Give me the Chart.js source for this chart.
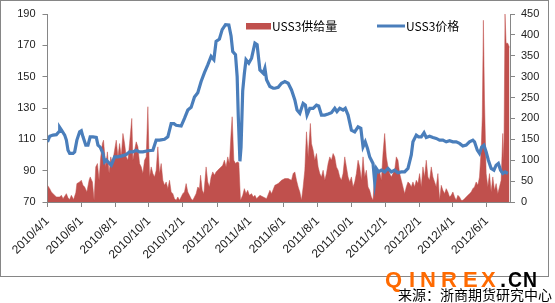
<!DOCTYPE html>
<html>
<head>
<meta charset="utf-8">
<script src="https://cdn.jsdelivr.net/npm/chart.js@4.4.0/dist/chart.umd.min.js"></script>
<style>
    html, body { margin: 0; padding: 0; background: #fff; }
    #wrap { position: relative; width: 555px; height: 303px; }
</style>
</head>
<body>
<div id="wrap"><canvas id="chart" width="555" height="303"></canvas></div>
<script>
// x values are days counted from 2010/4/1
const priceDay = [0,4,10,16,21,22,25,31,34,37,40,46,49,53,58,61,64,69,73,77,82,88,91,95,100,103,106,112,115,121,
    127,133,142,148,154,160,166,172,181,190,196,202,211,217,223,228,232,241,247,253,259,265,271,277,283,289,295,300,304,310,
    315,321,327,331,334,339,342,344,347,349,352,355,358,363,368,374,378,383,389,392,395,401,407,410,416,422,428,434,440,446,
    450,455,461,465,468,473,479,485,489,494,500,506,512,518,522,527,533,537,542,548,554,560,565,569,573,577,581,587,590,593,
    597,602,608,614,620,626,632,638,644,650,656,659,665,669,674,679,683,689,695,701,707,713,719,725,731,737,743,749,755,761,
    767,770,775,779,783,787,791,795,800,805,809,813,817,821,825,830];
const price = [108.4,112,112.7,113,115,117.6,116,112.7,109.5,103,101,101,102,109.5,114.8,115.5,111.6,106.3,106.3,111.6,
    111.6,111.2,106.3,105,101,95.6,96.7,94.5,93.5,98.8,98.8,99.3,100.3,102,102,103,102,102,102.7,103,
    109.5,109.5,110,111.6,120,120,119,118.5,123.4,128.7,130.4,137,139.8,146.9,152.6,157.5,162.9,160.8,172.5,174,
    180,183.2,183,176,166,164,150,125,96,105,141,152,160.8,158.6,161.8,171.4,170.4,154.3,152.2,155.4,
    148,143.7,142.6,142.6,143.2,145.8,146.9,145.8,141.5,135.1,128.7,126.6,133,131.9,125.5,129.8,129.8,131.9,131.3,125.5,
    125.5,126.2,127,129.8,127.7,129.8,128.7,129.8,125.5,115.9,114.8,118,117,105.2,108.4,104.2,98.8,94.6,82.8,91.4,
    89.2,90.3,89.2,91.4,89.2,90.3,88.6,89.2,89.2,91.4,100,108.4,112.7,111.6,111.6,114.2,111.2,112,111.2,110.6,
    109.5,109.5,108.4,109.1,108.4,108.4,107.4,105.7,106.3,108.4,109.5,108.4,103.1,101,105.2,106.3,102,96.7,91.4,90.3,
    93.5,94.6,90.3,88.2,89.2,88.2];

const supplyDay = [0,4,7,10,16,22,25,28,34,37,40,43,47,51,53,58,61,64,67,71,75,77,81,84,87,90,93,96,99,101,
    105,108,111,114,117,121,124,127,130,133,136,139,142,145,148,152,154,157,160,163,166,169,172,175,178,181,184,187,190,193,
    196,199,202,205,208,211,214,217,220,223,226,229,232,235,238,241,244,247,250,253,256,259,262,265,268,271,274,276,279,282,
    285,286,289,292,295,298,301,304,307,310,313,316,319,322,325,328,331,333,336,339,342,345,348,352,355,358,361,364,368,371,
    374,377,383,389,395,401,404,
    410,416,422,428,434,440,443,446,449,452,455,458,461,464,467,470,474,476,479,482,
    485,488,491,494,497,500,503,506,509,512,515,518,521,524,527,530,533,536,539,542,
    545,548,551,554,557,560,563,566,569,572,575,578,581,584,587,590,593,596,599,602,
    605,608,611,614,617,620,623,626,629,632,635,638,641,644,647,650,653,656,659,662,
    665,668,671,674,677,680,683,686,689,692,695,698,701,704,707,710,713,716,719,722,
    725,728,731,734,737,740,743,746,749,752,755,758,761,764,767,770,773,776,779,782,
    784,786,788,791,794,797,800,803,806,809,812,815,818,821,823,825,827,830,833];
const supply = [40,32,24,20,12,12,16,8,20,10,6,16,6,22,44,48,52,40,36,24,52,60,48,4,84,92,52,108,140,148,
    84,120,68,108,92,124,148,108,140,108,164,140,108,100,140,200,100,124,144,132,92,84,68,100,108,228,60,84,68,60,
    76,132,68,92,52,40,48,32,52,24,20,8,4,12,4,12,20,24,44,24,16,8,4,12,20,36,32,64,28,20,
    68,84,48,36,60,72,64,72,76,80,84,88,100,84,108,92,164,204,100,92,96,94,4,16,32,20,28,16,20,12,
    16,8,16,12,8,28,20,
    40,44,52,56,56,52,68,72,52,36,24,4,36,76,168,108,188,140,124,100,
    116,84,68,60,76,52,68,92,108,100,116,108,84,76,60,52,68,108,84,60,
    48,60,36,48,68,100,84,52,108,60,76,36,28,12,4,68,84,68,72,52,
    116,164,108,84,68,60,68,76,108,100,68,52,36,20,36,48,44,36,48,36,
    52,44,68,36,84,60,100,60,52,84,60,48,36,68,4,40,28,20,32,24,
    12,16,24,12,4,16,12,4,4,8,12,16,20,24,32,36,48,40,60,124,
    204,435,244,68,36,68,24,60,28,44,20,36,52,164,100,450,380,380,370];

const tickLabels = ['2010/4/1','2010/6/1','2010/8/1','2010/10/1','2010/12/1','2011/2/1','2011/4/1',
    '2011/6/1','2011/8/1','2011/10/1','2011/12/1','2012/2/1','2012/4/1','2012/6/1'];
const priceLabel = 'USS3价格';
const supplyLabel = 'USS3供给量';

function dayOf(label) {
    const [y, m, d] = label.split('/').map(Number);
    return (Date.UTC(y, m - 1, d) - Date.UTC(2010, 3, 1)) / 86400000;
}
const tickDays = tickLabels.map(dayOf);

const axisColor = '#868686';
const tickFont = { family: '"Liberation Sans", Arial, sans-serif', size: 11 };

const decor = {
    id: 'decor',
    beforeDraw(chart) {
        const ctx = chart.ctx;
        ctx.save();
        ctx.fillStyle = '#fff';
        ctx.fillRect(0, 0, chart.width, chart.height);
        ctx.strokeStyle = axisColor;
        ctx.lineWidth = 1;
        ctx.strokeRect(0.5, 0.5, 548, 276);
        ctx.restore();
    },
    afterDraw(chart) {
        const ctx = chart.ctx;
        ctx.save();
        // legend
        ctx.font = '12px "Noto Sans CJK SC", sans-serif';
        ctx.textBaseline = 'middle';
        ctx.fillStyle = '#C0504D';
        ctx.fillRect(246, 23, 25, 6.5);
        ctx.fillStyle = '#000';
        ctx.fillText(supplyLabel, 272, 26.5);
        ctx.strokeStyle = '#4A7EBB';
        ctx.lineWidth = 3;
        ctx.beginPath();
        ctx.moveTo(377, 26);
        ctx.lineTo(405, 26);
        ctx.stroke();
        ctx.fillText(priceLabel, 406, 26.5);

        // watermark
        ctx.font = 'bold 22px "Liberation Sans", Arial, sans-serif';
        ctx.textBaseline = 'alphabetic';
        const chars = ['Q','I','N','R','E','X','.','C','N'];
        const xs = [385, 409, 420, 441, 463, 481, 500, 508, 523];
        chars.forEach((c, i) => {
            ctx.fillStyle = i < 6 ? '#FF6A00' : '#000';
            ctx.fillText(c, xs[i], 287, i > 6 ? 14 : undefined);
        });
        ctx.font = '14px "Noto Sans CJK SC", sans-serif';
        ctx.fillStyle = '#000';
        ctx.textBaseline = 'top';
        ctx.fillText('来源：浙商期货研究中心', 398, 288);
        ctx.restore();
    }
};

new Chart(document.getElementById('chart'), {
    type: 'line',
    data: {
        datasets: [{
            label: priceLabel,
            data: priceDay.map((d, i) => ({ x: d, y: price[i] })),
            yAxisID: 'y',
            borderColor: '#4A7EBB',
            borderWidth: 3.2,
            pointRadius: 0,
            tension: 0,
            fill: false,
            order: 0
        }, {
            label: supplyLabel,
            data: supplyDay.map((d, i) => ({ x: d, y: supply[i] })),
            yAxisID: 'y1',
            borderColor: '#C0504D',
            backgroundColor: '#C0504D',
            borderWidth: 0.5,
            pointRadius: 0,
            tension: 0,
            fill: 'origin',
            order: 1
        }]
    },
    options: {
        responsive: false,
        animation: false,
        devicePixelRatio: 1,
        layout: { padding: { left: 0, right: 0, top: 14, bottom: 0 } },
        plugins: {
            legend: { display: false },
            tooltip: { enabled: false }
        },
        scales: {
            x: {
                type: 'linear',
                min: 0,
                max: 834,
                afterBuildTicks: (scale) => {
                    scale.ticks = tickDays.map(v => ({ value: v }));
                },
                afterFit: (scale) => { scale.height = 101; },
                grid: { drawOnChartArea: false, drawTicks: true, tickLength: 5, color: axisColor },
                border: { display: true, color: axisColor },
                ticks: {
                    autoSkip: false,
                    minRotation: 45,
                    maxRotation: 45,
                    padding: 7,
                    color: '#222',
                    font: { family: tickFont.family, size: 12 },
                    callback: (v, i) => tickLabels[i]
                }
            },
            y: {
                position: 'left',
                min: 70,
                max: 190,
                afterFit: (scale) => { scale.width = 47.5; },
                grid: { drawOnChartArea: false, drawTicks: true, tickLength: 5, color: axisColor },
                border: { display: true, color: axisColor },
                ticks: { stepSize: 20, padding: 7, color: '#222', font: tickFont }
            },
            y1: {
                position: 'right',
                min: 0,
                max: 450,
                afterFit: (scale) => { scale.width = 45; },
                grid: { drawOnChartArea: false, drawTicks: true, tickLength: 5, color: axisColor },
                border: { display: true, color: axisColor },
                ticks: { stepSize: 50, padding: 6, color: '#222', font: tickFont }
            }
        }
    },
    plugins: [decor]
});
</script>
</body>
</html>
